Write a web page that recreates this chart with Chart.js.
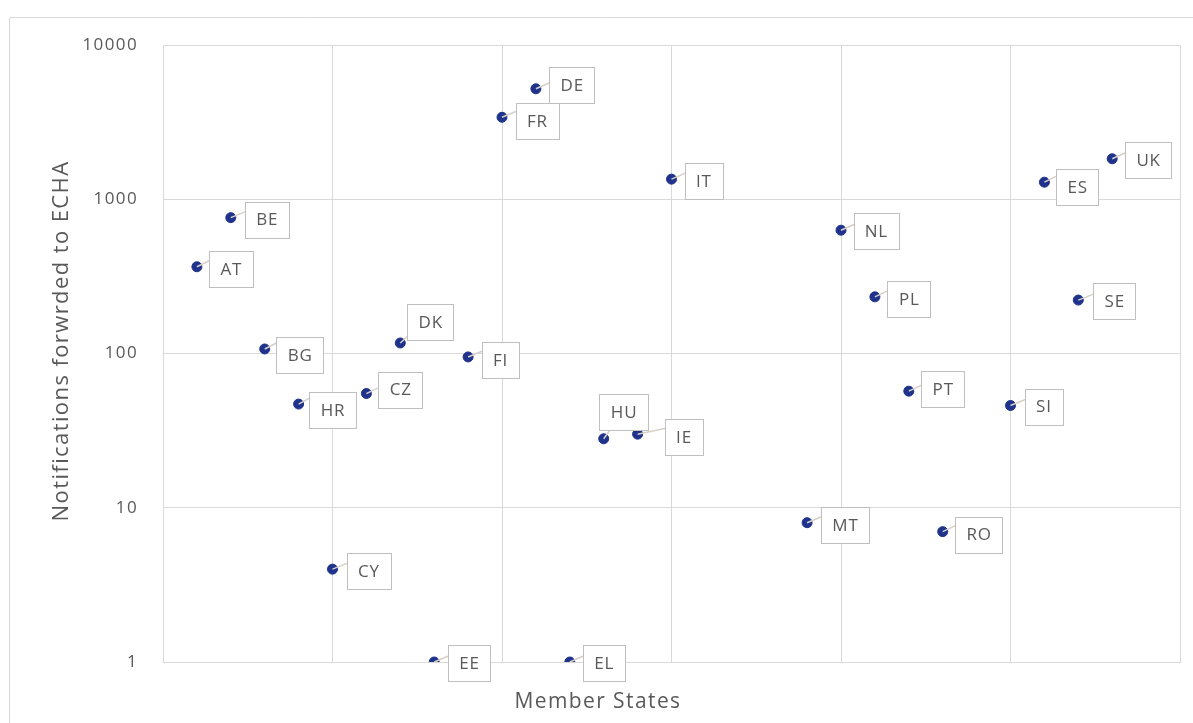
<!DOCTYPE html>
<html>
<head>
<meta charset="utf-8">
<script src="https://cdn.jsdelivr.net/npm/chart.js@4/dist/chart.umd.min.js"></script>
<style>
  html, body { margin: 0; padding: 0; background: #ffffff; }
  #wrap { width: 1193px; height: 723px; position: relative; }
</style>
</head>
<body>
<div id="wrap"><canvas id="chart" width="1193" height="723"></canvas></div>
<script>
// Member States in the order used on the horizontal axis (LV, LT, LU, SK have no entry)
const memberStates = ['AT','BE','BG','HR','CY','CZ','DK','EE','FI','FR','DE','EL','HU','IE','IT','MT','NL','PL','PT','RO','SI','ES','SE','UK'];
const statePositions = [1,2,3,4,5,6,7,8,9,10,11,12,13,14,15,19,20,21,22,23,25,26,27,28];
const notifications = [365,760,107,47,4,55,117,1,95,3400,5200,1,28,30,1350,8,630,233,57,7,46,1290,222,1830];
const yTickValues = [1,10,100,1000,10000];
const xAxisTitle = 'Member States';
const yAxisTitle = 'Notifications forwrded to ECHA';

// Where each callout box sits relative to its point (box centre offset, px)
const calloutOffsets = {
  AT:[34,2], BE:[36,2], BG:[35,6], HR:[34,6], CY:[36,2], CZ:[34,-4], DK:[30,-21],
  EE:[35,1], FI:[32,3], FR:[35,4], DE:[36,-4], EL:[34,1], HU:[20,-27], IE:[46,3],
  IT:[32,2], MT:[38,2], NL:[35,1], PL:[34,2], PT:[34,-2], RO:[36,3], SI:[33,1],
  ES:[33,5], SE:[36,1], UK:[36,1]
};

const points = memberStates.map((code, i) => ({ x: statePositions[i], y: notifications[i], code }));

const FONT = '"Open Sans", "Noto Sans", sans-serif';
const TEXT = '#595959';
const GRID = '#d9d9d9';

const framePlugin = {
  id: 'frame',
  beforeDraw(chart) {
    const c = chart.ctx;
    c.letterSpacing = '1.4px';
    c.save();
    c.fillStyle = '#ffffff';
    c.fillRect(0, 0, chart.width, chart.height);
    c.strokeStyle = GRID;
    c.lineWidth = 1;
    c.beginPath();
    c.moveTo(9.5, chart.height);
    c.lineTo(9.5, 17.5);
    c.lineTo(chart.width, 17.5);
    c.stroke();
    c.restore();
  },
  afterDraw(chart) {
    // axis titles
    const c = chart.ctx;
    const area = chart.chartArea;
    c.save();
    c.fillStyle = TEXT;
    c.textAlign = 'center';
    c.textBaseline = 'middle';
    c.letterSpacing = '1.4px';
    c.font = '21px ' + FONT;
    c.fillText(xAxisTitle, area.left + 435, area.bottom + 40);
    c.translate(62, area.top + 296);
    c.rotate(-Math.PI / 2);
    c.font = '22px ' + FONT;
    c.fillText(yAxisTitle, 0, 0);
    c.restore();
  }
};

const calloutPlugin = {
  id: 'callouts',
  afterDatasetsDraw(chart) {
    const c = chart.ctx;
    const meta = chart.getDatasetMeta(0);
    c.save();
    c.letterSpacing = '0.8px';
    c.font = '17px ' + FONT;
    c.textAlign = 'center';
    c.textBaseline = 'middle';
    meta.data.forEach((el, i) => {
      const p = chart.data.datasets[0].data[i];
      const off = calloutOffsets[p.code] || [34, 2];
      const tw = c.measureText(p.code).width;
      const w = Math.round(tw + 22), h = 36;
      const cx = el.x + off[0], cy = el.y + off[1];
      const left = Math.round(cx - w / 2) + 0.5, top = Math.round(cy - h / 2) + 0.5;
      const right = left + w, bottom = top + h;
      // leader from the point to the box
      let ax, ay;
      if (left > el.x) {
        ax = left;
        ay = Math.min(Math.max(el.y - 6, top + 4), bottom - 4);
      } else {
        ax = Math.min(Math.max(el.x + 6, left + 4), right - 4);
        ay = el.y > bottom ? bottom : top;
      }
      c.strokeStyle = '#d8d0c6';
      c.lineWidth = 1.5;
      c.beginPath();
      c.moveTo(el.x, el.y);
      c.lineTo(ax, ay);
      c.stroke();
      c.fillStyle = '#ffffff';
      c.fillRect(left, top, w, h);
      c.strokeStyle = '#bfbfbf';
      c.lineWidth = 1;
      c.strokeRect(left, top, w, h);
      c.fillStyle = TEXT;
      c.fillText(p.code, cx + 0.4, cy + 1);
    });
    c.restore();
  }
};

new Chart(document.getElementById('chart'), {
  type: 'scatter',
  data: {
    datasets: [{
      data: points,
      backgroundColor: '#1f338c',
      borderColor: '#1f338c',
      pointRadius: 5,
      pointHoverRadius: 5
    }]
  },
  options: {
    responsive: false,
    animation: false,
    events: [],
    layout: { padding: { left: 0, top: 45, right: 13, bottom: 0 } },
    plugins: { legend: { display: false }, tooltip: { enabled: false } },
    scales: {
      x: {
        type: 'linear',
        min: 0,
        max: 30,
        ticks: { stepSize: 5, display: false },
        grid: { color: GRID, lineWidth: 1, drawTicks: false },
        border: { color: GRID },
        afterFit(scale) { scale.height = 61; }
      },
      y: {
        type: 'logarithmic',
        min: 1,
        max: 10000,
        afterBuildTicks(scale) { scale.ticks = yTickValues.map(v => ({ value: v })); },
        ticks: {
          color: TEXT,
          font: { family: FONT, size: 17 },
          padding: 25,
          callback: v => String(v)
        },
        grid: { color: GRID, lineWidth: 1, drawTicks: false },
        border: { color: GRID },
        afterFit(scale) { scale.width = 163; }
      }
    }
  },
  plugins: [framePlugin, calloutPlugin]
});
</script>
</body>
</html>
